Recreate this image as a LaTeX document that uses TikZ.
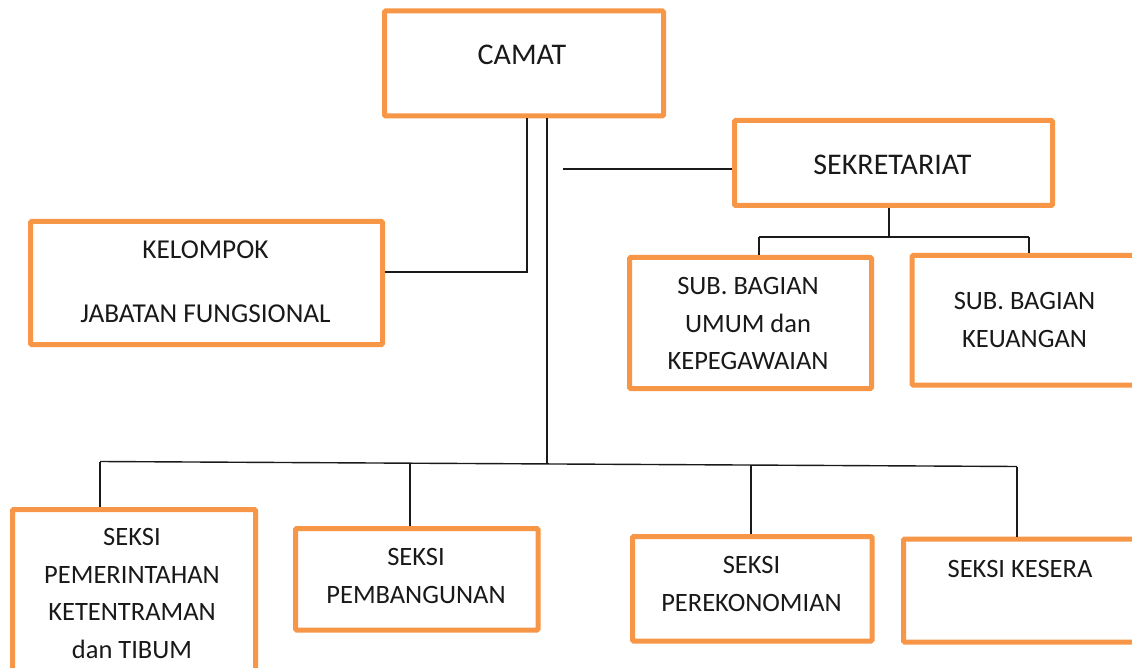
\documentclass[tikz,border=0pt]{standalone}
\usepackage{fontspec}
\setmainfont{Carlito}
\definecolor{boxorange}{HTML}{F79646}
\definecolor{linegray}{HTML}{1A1A1A}
\begin{document}
\begin{tikzpicture}[x=1pt,y=-1pt,
  box/.style={draw=boxorange, line width=5pt, rounded corners=1.2pt, inner sep=0pt},
  bigtxt/.style={anchor=north, inner sep=0pt, align=center, text=black!90, font=\fontsize{30}{37.5}\selectfont},
  txt/.style={anchor=north, inner sep=0pt, align=center, text=black!90, font=\fontsize{26.5}{37.5}\selectfont},
  keltxt/.style={txt, font=\fontsize{27.3}{37.5}\selectfont},
  conn/.style={draw=linegray, line width=1.4pt}]
\useasboundingbox (0,0) rectangle (1132,668);
\clip (0,0) rectangle (1132,668);
% boxes
\node[box, minimum width=279pt, minimum height=105pt] (camat) at (524,63.5) {};
\node[box, minimum width=318pt, minimum height=85pt] (sek) at (893.5,163) {};
\node[box, minimum width=352pt, minimum height=123pt] (kel) at (206.5,283) {};
\node[box, minimum width=242pt, minimum height=131pt] (subum) at (750.5,323) {};
\node[box, minimum width=248pt, minimum height=129.5pt] (subkeu) at (1036,320.25) {};
\node[box, minimum width=243pt, minimum height=210.5pt] (b1) at (134,614.75) {};
\node[box, minimum width=242.5pt, minimum height=101.5pt] (b2) at (416.75,579.25) {};
\node[box, minimum width=239.5pt, minimum height=104.5pt] (b3) at (752.25,588.75) {};
\node[box, minimum width=256.5pt, minimum height=103pt] (b4) at (1031.75,590.5) {};
% texts
\node[bigtxt] (camat-t) at (522,45) {CAMAT};
\node[bigtxt] (sek-t) at (892.5,155) {SEKRETARIAT};
\node[keltxt] (kel-t) at (205.5,240.8) {KELOMPOK\\[26.5pt]JABATAN FUNGSIONAL};
\node[txt] (subum-t) at (748,277.3) {SUB. BAGIAN\\UMUM dan\\KEPEGAWAIAN};
\node[txt] (subkeu-t) at (1024.5,292.3) {SUB. BAGIAN\\KEUANGAN};
\node[txt] (b1-t) at (132,528.3) {SEKSI\\PEMERINTAHAN\\KETENTRAMAN\\dan TIBUM};
\node[txt] (b2-t) at (416,548.3) {SEKSI\\PEMBANGUNAN};
\node[txt] (b3-t) at (751.5,556.3) {SEKSI\\PEREKONOMIAN};
\node[txt] (b4-t) at (1020,560.3) {SEKSI KESERA};
% junction coordinates
\coordinate (j1) at (527,272);
\coordinate (t) at (547,463.9);
\coordinate (s0) at (563,169);
\coordinate (sk) at (889,237);
\coordinate (sl) at (759,237);
\coordinate (sr) at (1029,237);
\coordinate (c1) at (100,461.5);
\coordinate (c2) at (410,463.2);
\coordinate (c3) at (751,465);
\coordinate (c4) at (1017,466.5);
% connectors
\draw[conn] (camat.south -| j1) -- (j1) -- (kel.east |- j1);
\draw[conn] (camat.south -| t) -- (t);
\draw[conn] (s0) -- (sek.west |- s0);
\draw[conn] (sek.south -| sk) -- (sk);
\draw[conn] (sl) -- (sr);
\draw[conn] (sl) -- (subum.north -| sl);
\draw[conn] (sr) -- (subkeu.north -| sr);
\draw[conn] (c1) -- (c4);
\draw[conn] (c1) -- (b1.north -| c1);
\draw[conn] (c2) -- (b2.north -| c2);
\draw[conn] (c3) -- (b3.north -| c3);
\draw[conn] (c4) -- (b4.north -| c4);
\end{tikzpicture}
\end{document}
